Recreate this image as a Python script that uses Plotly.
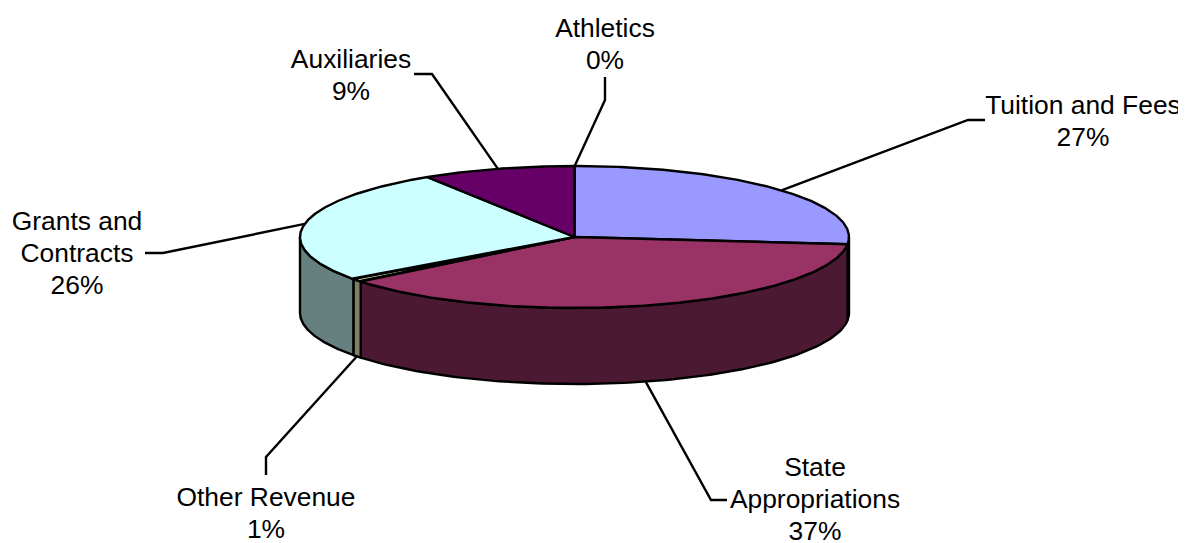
import numpy as np
import plotly.graph_objects as go

# ---- data ----
categories = ["Athletics", "Tuition and Fees", "State Appropriations", "Other Revenue", "Grants and Contracts", "Auxiliaries"]
values = [0.02, 26.6, 37.6, 0.7, 26.1, 9.0]
percent_labels = ["0%", "27%", "37%", "1%", "26%", "9%"]
label_lines = [["Athletics"], ["Tuition and Fees"], ["State", "Appropriations"], ["Other Revenue"], ["Grants and", "Contracts"], ["Auxiliaries"]]

# ---- styling / layout ----
top_colors = ["#FFFFFF", "#9999FF", "#993366", "#FFFFCC", "#CCFFFF", "#660066"]
side_colors = ["#7F7F7F", "#4C4C7F", "#4C1933", "#7F7F66", "#667F7F", "#330033"]
CX, CY, RX, RY, DEPTH = 574.5, 237, 274.5, 71, 76
W, H = 1185, 543
FONT = dict(family="Liberation Sans, Arial, sans-serif", size=26.4, color="black")
LINE_H = 32.4
label_centers = [(605, 30), (1083, 107), (815, 469), (266, 499), (77, 223), (351, 61)]
leader_paths = [
    [(605, 100), (605, 77)],
    [(968, 120), (985, 120)],
    [(711, 500), (727, 500)],
    [(266, 457), (266, 475)],
    [(163, 253), (145, 253)],
    [(432, 74), (414, 74)],
]
leader_nudge_deg = [0, 1.0, 1.5, 0, 0, 0]


def ell(theta, dz=0.0):
    return CX + RX * np.sin(theta), CY - RY * np.cos(theta) + dz


fractions = np.array(values) / sum(values)
edges = np.concatenate([[0], np.cumsum(fractions)]) * 2 * np.pi

fig = go.Figure()
line = dict(color="black", width=2.4)

# side walls (front half only)
for i in range(len(values)):
    a, b = max(edges[i], np.pi / 2), min(edges[i + 1], 3 * np.pi / 2)
    if b <= a:
        continue
    t = np.linspace(a, b, 120)
    x1, y1 = ell(t)
    x2, y2 = ell(t[::-1], DEPTH)
    fig.add_trace(go.Scatter(x=np.r_[x1, x2, x1[0]], y=np.r_[y1, y2, y1[0]], mode="lines",
                             fill="toself", fillcolor=side_colors[i], line=line, hoverinfo="skip"))

# top faces
for i in range(len(values)):
    t = np.linspace(edges[i], edges[i + 1], 200)
    x, y = ell(t)
    fig.add_trace(go.Scatter(x=np.r_[CX, x, CX], y=np.r_[CY, y, CY], mode="lines",
                             fill="toself", fillcolor=top_colors[i], line=line, hoverinfo="skip"))

# leader lines, starting from each slice's middle on the rim
for i in range(len(values)):
    mid = (edges[i] + edges[i + 1]) / 2 + np.radians(leader_nudge_deg[i])
    sx, sy = ell(mid, DEPTH if np.pi / 2 < mid < 3 * np.pi / 2 else 0)
    xs = [sx] + [p[0] for p in leader_paths[i]]
    ys = [sy] + [p[1] for p in leader_paths[i]]
    fig.add_trace(go.Scatter(x=xs, y=ys, mode="lines", line=line, hoverinfo="skip"))

# labels, one text point per line for the exact line pitch
for i in range(len(values)):
    lines = label_lines[i] + [percent_labels[i]]
    cx, cy = label_centers[i]
    fig.add_trace(go.Scatter(x=[cx] * len(lines), y=[cy + k * LINE_H for k in range(len(lines))],
                             mode="text", text=lines, textposition="middle center",
                             textfont=FONT, hoverinfo="skip", cliponaxis=True))

fig.update_layout(
    width=W, height=H, margin=dict(l=0, r=7, t=0, b=0), showlegend=False,
    paper_bgcolor="white", plot_bgcolor="white",
    xaxis=dict(range=[0, W - 7], visible=False, fixedrange=True),
    yaxis=dict(range=[H, 0], visible=False, fixedrange=True),
)
fig.write_html("out.html", config=dict(displayModeBar=False),
               post_script="document.body.style.margin='0';document.body.style.overflow='hidden';")
